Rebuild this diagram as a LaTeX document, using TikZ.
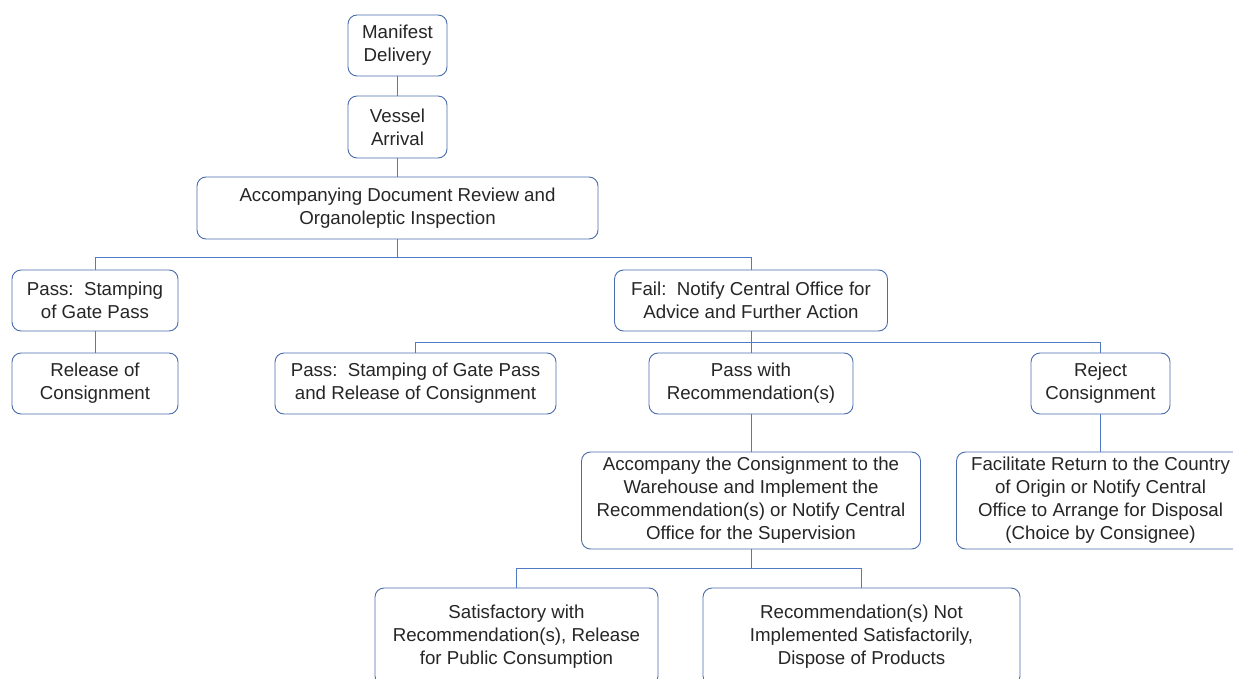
\documentclass[tikz,border=0pt]{standalone}
\usepackage{fontspec}
\setmainfont{Liberation Sans}
\definecolor{boxline}{RGB}{72,108,172}
\definecolor{conn}{RGB}{80,122,196}
\begin{document}
\begin{tikzpicture}[x=1pt,y=-1pt,
  box/.style={draw=boxline,line width=0.9pt,rounded corners=9pt,fill=white,
    align=center,inner sep=0pt,font=\fontsize{18.7}{23}\selectfont,text=black!85},
  link/.style={draw=conn,line width=0.9pt}]
\useasboundingbox (0,0) rectangle (1233,679);
\node[box,minimum width=99pt,minimum height=61pt] (man) at (397.5,45.5) {Manifest\\Delivery};
\node[box,minimum width=99pt,minimum height=62pt] (ves) at (397.5,127) {Vessel\\Arrival};
\node[box,minimum width=401pt,minimum height=62pt] (doc) at (397.5,208) {Accompanying Document Review and\\Organoleptic Inspection};
\node[box,minimum width=166pt,minimum height=61pt] (pass) at (95,300.5) {Pass:\ \ Stamping\\of Gate Pass};
\node[box,minimum width=166pt,minimum height=61pt] (rel) at (95,383.5) {Release of\\Consignment};
\node[box,minimum width=273pt,minimum height=61pt] (fail) at (751,300.5) {Fail:\ \ Notify Central Office for\\Advice and Further Action};
\node[box,minimum width=281pt,minimum height=61pt] (pass2) at (415.5,383.5) {Pass:\ \ Stamping of Gate Pass\\and Release of Consignment};
\node[box,minimum width=204pt,minimum height=61pt] (prec) at (751,383.5) {Pass with\\Recommendation(s)};
\node[box,minimum width=139pt,minimum height=61pt] (rej) at (1100.5,383.5) {Reject\\Consignment};
\node[box,minimum width=339pt,minimum height=97pt] (acc) at (751,500.5) {Accompany the Consignment to the\\Warehouse and Implement the\\Recommendation(s) or Notify Central\\Office for the Supervision};
\node[box,minimum width=288pt,minimum height=97pt] (fac) at (1100.5,500.5) {Facilitate Return to the Country\\of Origin or Notify Central\\Office to Arrange for Disposal\\(Choice by Consignee)};
\node[box,minimum width=283pt,minimum height=97pt] (sat) at (516.5,636.5) {Satisfactory with\\Recommendation(s), Release\\for Public Consumption};
\node[box,minimum width=317pt,minimum height=97pt] (notimp) at (861.5,636.5) {Recommendation(s) Not\\Implemented Satisfactorily,\\Dispose of Products};
\coordinate (j1) at (397.5,257);
\coordinate (j2) at (751,342);
\coordinate (j3) at (751,568);
\draw[link] (man.south) -- (ves.north);
\draw[link] (ves.south) -- (doc.north);
\draw[link] (doc.south) -- (j1);
\draw[link] (j1) -| (pass.north);
\draw[link] (j1) -| (fail.north);
\draw[link] (pass.south) -- (rel.north);
\draw[link] (fail.south) -- (j2);
\draw[link] (j2) -| (pass2.north);
\draw[link] (j2) -- (prec.north);
\draw[link] (j2) -| (rej.north);
\draw[link] (prec.south) -- (acc.north);
\draw[link] (rej.south) -- (fac.north);
\draw[link] (acc.south) -- (j3);
\draw[link] (j3) -| (sat.north);
\draw[link] (j3) -| (notimp.north);
\end{tikzpicture}
\end{document}
